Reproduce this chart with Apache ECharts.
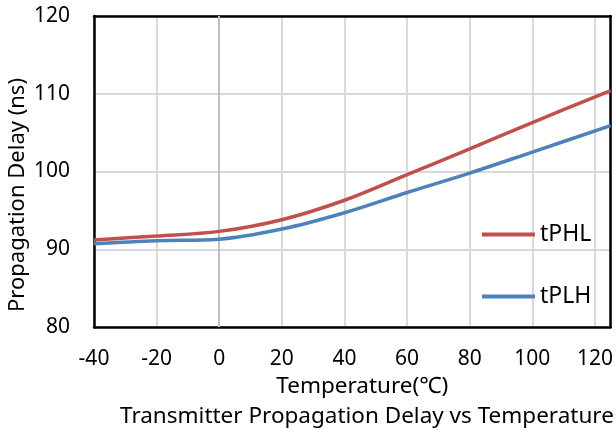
<!DOCTYPE html>
<html><head><meta charset="utf-8">
<script src="https://cdn.jsdelivr.net/npm/echarts@6/dist/echarts.min.js"></script>
<style>html,body{margin:0;padding:0;background:#fff}#c{width:616px;height:434px}</style>
</head><body><div id="c"></div>
<script>
const temps = [-40, -20, 0, 20, 40, 60, 80, 100, 125];
const tPHL = [91.2, 91.7, 92.3, 93.8, 96.3, 99.6, 102.9, 106.3, 110.4];
const tPLH = [90.7, 91.1, 91.3, 92.6, 94.7, 97.3, 99.8, 102.5, 105.9];
const seriesNames = ['tPHL', 'tPLH'];
const xTitle = 'Temperature(℃)';
const yTitle = 'Propagation Delay (ns)';
const caption = 'Transmitter Propagation Delay vs Temperature';

const font = 'Noto Sans';
const chart = echarts.init(document.getElementById('c'), null, {renderer: 'canvas'});
const pair = (xs, ys) => xs.map((x, i) => [x, ys[i]]);
const frameAxis = {show: true, onZero: false, lineStyle: {color: '#000', width: 2.5}};
chart.setOption({
  animation: false,
  backgroundColor: '#fff',
  textStyle: {fontFamily: font, color: '#000'},
  title: {
    text: caption, left: 115, top: 400,
    textStyle: {fontFamily: font, fontSize: 22.5, fontWeight: 'normal', color: '#000'}
  },
  grid: {left: 94, top: 16, right: 4, bottom: 107},
  legend: [
    {data: [seriesNames[0]], left: 477, top: 218, icon: 'rect', itemWidth: 53, itemHeight: 4, itemGap: 6,
     textStyle: {fontFamily: font, fontSize: 23, color: '#000'}},
    {data: [seriesNames[1]], left: 477, top: 280, icon: 'rect', itemWidth: 53, itemHeight: 4, itemGap: 6,
     textStyle: {fontFamily: font, fontSize: 23, color: '#000'}}
  ],
  xAxis: [{
    type: 'value', min: -40, max: 125, interval: 20,
    name: xTitle, nameLocation: 'middle', nameGap: 47,
    nameTextStyle: {fontFamily: font, fontSize: 22.5, color: '#000', padding: [0, 0, 0, 20]},
    axisLine: frameAxis, axisTick: {show: false},
    axisLabel: {fontFamily: font, fontSize: 21, color: '#000', margin: 22, showMaxLabel: false},
    splitLine: {show: true, lineStyle: {color: '#d9d9d9', width: 2}}
  }, {
    type: 'value', position: 'top', min: -40, max: 125, interval: 20,
    axisLine: frameAxis, axisTick: {show: false}, axisLabel: {show: false}, splitLine: {show: false}
  }],
  yAxis: [{
    type: 'value', min: 80, max: 120, interval: 10,
    axisLine: frameAxis, axisTick: {show: false},
    axisLabel: {fontFamily: font, fontSize: 21, color: '#000', margin: 24},
    splitLine: {show: true, lineStyle: {color: '#d9d9d9', width: 2}}
  }, {
    type: 'value', position: 'right', min: 80, max: 120, interval: 10,
    axisLine: frameAxis, axisTick: {show: false}, axisLabel: {show: false}, splitLine: {show: false}
  }],
  graphic: [{
    type: 'text', x: 18, y: 195, rotation: Math.PI / 2,
    style: {text: yTitle, fontFamily: font, fontSize: 22, fill: '#000', align: 'center', verticalAlign: 'middle'}
  }],
  series: [
    {name: seriesNames[0], type: 'line', smooth: 0.35, showSymbol: false, data: pair(temps, tPHL),
     color: '#C0504D', lineStyle: {width: 3.5, color: '#C0504D'}, z: 3,
     markLine: {silent: true, symbol: 'none', label: {show: false}, lineStyle: {color: '#bfbfbf', width: 2, type: 'solid'}, data: [{xAxis: 0}], z: 1}},
    {name: seriesNames[1], type: 'line', smooth: 0.35, showSymbol: false, data: pair(temps, tPLH),
     color: '#4F81BD', lineStyle: {width: 3.5, color: '#4F81BD'}, z: 3}
  ]
});
</script></body></html>
